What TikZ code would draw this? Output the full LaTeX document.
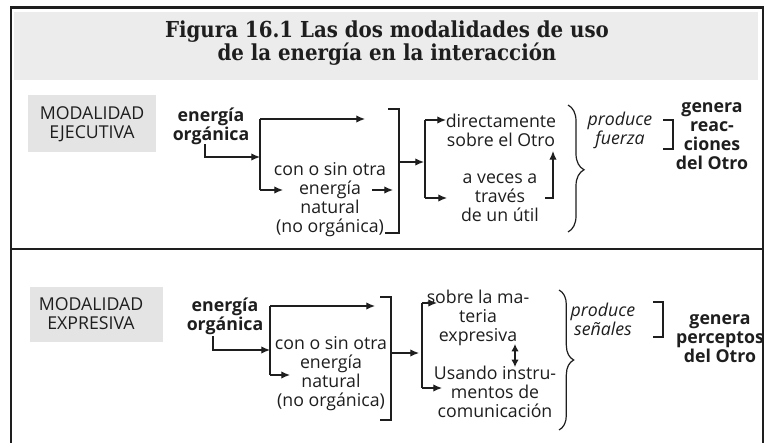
\documentclass[tikz,border=0pt]{standalone}
\usepackage{fontspec}
\setmainfont{Open Sans}
\newfontfamily\titlefont[BoldFont={DejaVu Serif Condensed Bold}]{DejaVu Serif Condensed}
\usetikzlibrary{arrows.meta,decorations.pathreplacing}
\definecolor{bandgray}{RGB}{236,236,236}
\definecolor{boxgray}{RGB}{228,228,228}
\definecolor{ink}{RGB}{30,30,30}
\begin{document}
\begin{tikzpicture}[x=0.75pt,y=-0.75pt,
  every node/.style={inner sep=0pt,outer sep=0pt,text=ink},
  txt/.style={align=center,font=\fontsize{13.3}{14.25}\selectfont},
  btxt/.style={align=center,font=\fontsize{13.3}{14.25}\selectfont\bfseries},
  itxt/.style={align=center,font=\fontsize{13.3}{14.25}\selectfont\itshape},
  mtxt/.style={align=center,font=\fontsize{13.3}{14.25}\selectfont},
  ttxt/.style={align=center,font=\titlefont\bfseries\fontsize{16.5}{16.5}\selectfont},
  ln/.style={draw=ink,line width=0.9pt},
  arr/.style={ln,-{Latex[length=6.5pt,width=5.5pt]}},
  darr/.style={ln,{Latex[length=5.5pt,width=5.5pt]}-{Latex[length=5.5pt,width=5.5pt]}},
  brc/.style={ln,line width=0.9pt,decorate}
]
\useasboundingbox (0,0) rectangle (766,442);
\fill[white] (0,0) rectangle (766,442);
% frame
\fill[bandgray] (14,12) rectangle (758,80);
\draw[ink,line width=1.8pt] (11,445) -- (11,7.5) -- (763,7.5) -- (763,445);
\draw[ink,line width=1.2pt] (11,249) -- (763,249);

\node[ttxt] (title) at (387,43) {Figura 16.1 Las dos modalidades de uso\\de la energía en la interacción};

% ---------- top section ----------
\fill[boxgray] (28,95) rectangle (156,152);
\node[mtxt] (m1) at (92,124) {MODALIDAD\\EJECUTIVA};
\node[btxt] (e1) at (211,126) {energía\\orgánica};
\node[txt] (c1) at (330,200) {con o sin otra\\energía\\natural\\(no orgánica)};
\node[txt] (d1) at (501,130) {directamente\\sobre el Otro};
\node[txt] (v1) at (500,198) {a veces a\\través\\de un útil};
\node[itxt] (p1) at (620,130) {produce\\fuerza};
\node[btxt] (g1) at (712,136) {genera\\reac-\\ciones\\del Otro};

\coordinate (a1t) at (260,119);
\coordinate (a1b) at (260,190);
\coordinate (a1m) at (260,157);
\draw[ln] (a1t) -- (a1b);
\draw[arr] (a1t) -- (365,119);
\draw[arr] (a1b) -- (283,190);
\draw[arr] (205,144) |- (a1m);
\draw[arr] (372,190) -- (393,190);
\coordinate (b1) at (399,162);
\draw[ln] (388,109) -- (399,109) -- (399,233) -- (385,233);
\coordinate (c1t) at (425,120);
\coordinate (c1b) at (425,198);
\draw[arr] (b1) -- (424,162);
\draw[ln] (c1t) -- (c1b);
\draw[arr] (c1t) -- (446,120);
\draw[arr] (c1b) -- (447,198);
\draw[arr] (545,198) -- (553,198) -- (553,151);
\draw[brc,decoration={brace,amplitude=12pt,aspect=0.51}] (568,105) -- (568,232);
\draw[ln] (663,120) -- (673,120) -- (673,149) -- (663,149);

% ---------- bottom section ----------
\fill[boxgray] (30,287) rectangle (163,342);
\node[mtxt] (m2) at (91,314) {MODALIDAD\\EXPRESIVA};
\node[btxt] (e2) at (225,316) {energía\\orgánica};
\node[txt] (c2) at (331,374) {con o sin otra\\energía\\natural\\(no orgánica)};
\node[txt] (s2) at (478,318) {sobre la ma-\\teria\\expresiva};
\node[txt] (u2) at (495,392) {Usando instru-\\mentos de\\comunicación};
\node[itxt] (p2) at (603,319) {produce\\señales};
\node[btxt] (g2) at (720,339) {genera\\perceptos\\del Otro};

\coordinate (a2t) at (270,306);
\coordinate (a2b) at (270,375);
\coordinate (a2m) at (270,350);
\draw[ln] (a2t) -- (a2b);
\draw[arr] (a2t) -- (375,306);
\draw[arr] (a2b) -- (290,375);
\draw[arr] (213,336) |- (a2m);
\coordinate (b2) at (391,353);
\draw[ln] (380,297) -- (391,297) -- (391,420) -- (380,420);
\coordinate (c2t) at (422,303);
\coordinate (c2b) at (422,388);
\draw[arr] (b2) -- (419,353);
\draw[ln] (c2t) -- (c2b);
\draw[arr] (c2t) -- (437,303);
\draw[arr] (c2b) -- (442,388);
\draw[darr] (515,344) -- (515,367);
\draw[brc,decoration={brace,amplitude=11pt,aspect=0.5}] (559,290) -- (559,430);
\draw[ln] (653,302) -- (663,302) -- (663,337) -- (653,337);
\end{tikzpicture}
\end{document}
